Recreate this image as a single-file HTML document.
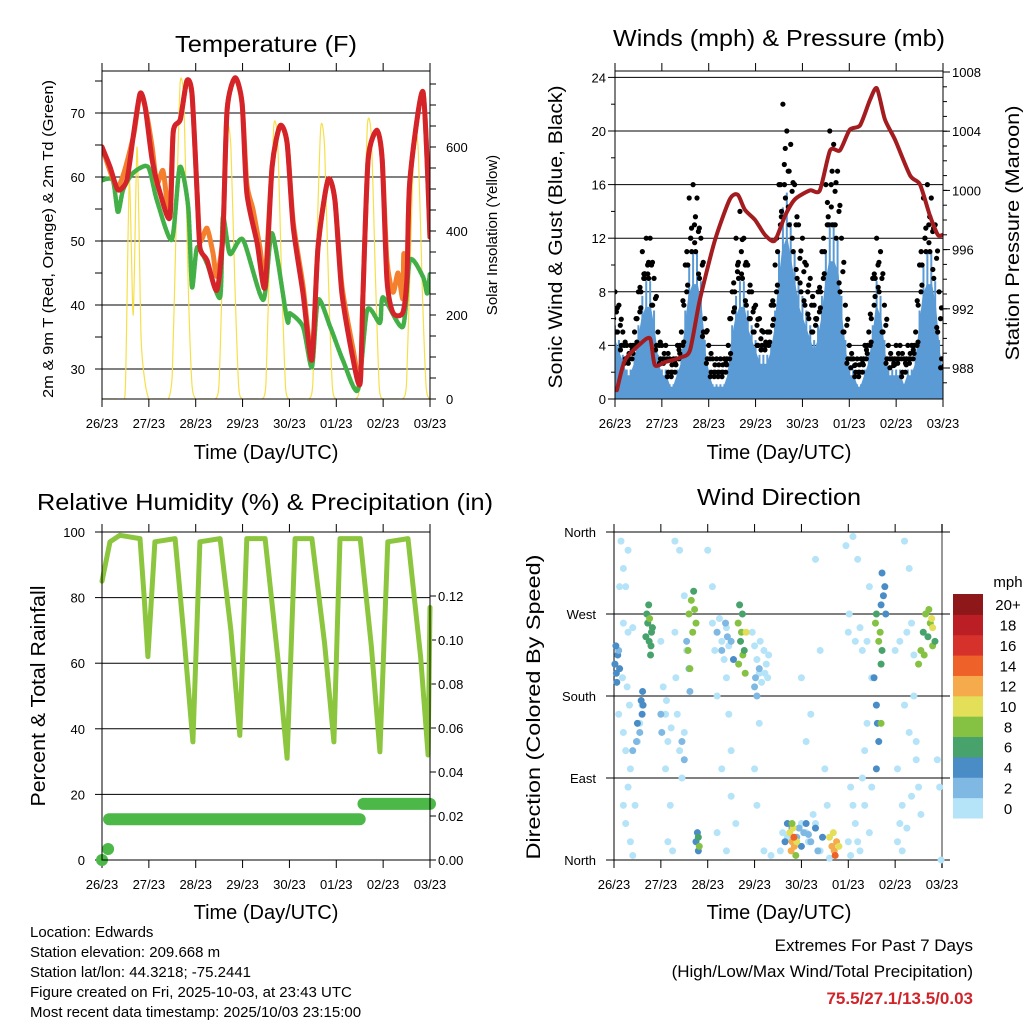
<!DOCTYPE html>
<html><head><meta charset="utf-8"><style>
html,body{margin:0;padding:0;background:#fff;}
svg{display:block;font-family:"Liberation Sans",Arial,sans-serif;}
</style></head><body>
<svg id="chart" width="1024" height="1024" viewBox="0 0 1024 1024" xmlns="http://www.w3.org/2000/svg">
<defs>
<clipPath id="clipTemp"><rect x="102" y="71" width="328" height="328"/></clipPath>
<clipPath id="clipWind"><rect x="615" y="71" width="328" height="328"/></clipPath>
</defs>
<rect x="0" y="0" width="1024" height="1024" fill="#fff"/>
<g id="pTemp"></g>
<g id="pWind"></g>
<g id="pRH"></g>
<g id="pDir"></g>
<g fill="#000">
<text x="266" y="52" font-size="23" text-anchor="middle" textLength="182" lengthAdjust="spacingAndGlyphs">Temperature (F)</text>
<text x="779" y="46" font-size="23" text-anchor="middle" textLength="332" lengthAdjust="spacingAndGlyphs">Winds (mph) &amp; Pressure (mb)</text>
<text x="265" y="510" font-size="23" text-anchor="middle" textLength="456" lengthAdjust="spacingAndGlyphs">Relative Humidity (%) &amp; Precipitation (in)</text>
<text x="779" y="505" font-size="23" text-anchor="middle" textLength="164" lengthAdjust="spacingAndGlyphs">Wind Direction</text>
<text x="266" y="459" font-size="20" text-anchor="middle">Time (Day/UTC)</text>
<text x="779" y="459" font-size="20" text-anchor="middle">Time (Day/UTC)</text>
<text x="266" y="919" font-size="20" text-anchor="middle">Time (Day/UTC)</text>
<text x="779" y="919" font-size="20" text-anchor="middle">Time (Day/UTC)</text>
<text transform="translate(53,239) rotate(-90)" font-size="15" text-anchor="middle" textLength="318" lengthAdjust="spacingAndGlyphs">2m &amp; 9m T (Red, Orange) &amp; 2m Td (Green)</text>
<text transform="translate(497,235) rotate(-90)" font-size="15" text-anchor="middle">Solar Insolation (Yellow)</text>
<text transform="translate(562,237) rotate(-90)" font-size="19" text-anchor="middle" textLength="303" lengthAdjust="spacingAndGlyphs">Sonic Wind &amp; Gust (Blue, Black)</text>
<text transform="translate(1019,233) rotate(-90)" font-size="19" text-anchor="middle" textLength="255" lengthAdjust="spacingAndGlyphs">Station Pressure (Maroon)</text>
<text transform="translate(45,696) rotate(-90)" font-size="20" text-anchor="middle" textLength="221" lengthAdjust="spacingAndGlyphs">Percent &amp; Total Rainfall</text>
<text transform="translate(540,707) rotate(-90)" font-size="19" text-anchor="middle" textLength="305" lengthAdjust="spacingAndGlyphs">Direction (Colored By Speed)</text>
</g>
<g font-size="15" fill="#000">
<text x="30" y="937">Location: Edwards</text>
<text x="30" y="957">Station elevation: 209.668 m</text>
<text x="30" y="977">Station lat/lon: 44.3218; -75.2441</text>
<text x="30" y="997">Figure created on Fri, 2025-10-03, at 23:43 UTC</text>
<text x="30" y="1017">Most recent data timestamp: 2025/10/03 23:15:00</text>
</g>
<g text-anchor="end">
<text x="973" y="951" font-size="17">Extremes For Past 7 Days</text>
<text x="973" y="977" font-size="17">(High/Low/Max Wind/Total Precipitation)</text>
<text x="973" y="1004" font-size="17" font-weight="bold" fill="#d0242b">75.5/27.1/13.5/0.03</text>
</g>
</svg>
<script>
// ---------- data ----------
const dayLabels=['26/23','27/23','28/23','29/23','30/23','01/23','02/23','03/23'];
const tempTicks=[30,40,50,60,70];
const solarTicks=[0,200,400,600];
const tRedTime=[0,.17,.34,.53,.66,.81,.92,1.07,1.24,1.45,1.52,1.67,1.81,1.92,2.03,2.09,2.24,2.45,2.58,2.67,2.84,2.99,3.09,3.31,3.48,3.63,3.8,3.95,4.08,4.29,4.48,4.61,4.82,4.97,5.12,5.36,5.51,5.57,5.68,5.87,5.98,6.08,6.21,6.42,6.51,6.57,6.85,7.0];
const tRedVal=[64.7,61.6,58,59.5,66,73,71,62.7,57.5,53.7,67,69,75,73,57.5,49,47,42.3,51,70.5,75.5,71.5,57.5,49.7,42.8,61.6,68,65.3,52.2,41.8,31.4,49,59.5,56.4,41.8,31.4,27.8,41.8,62.7,67.3,62.7,44,38.8,38.8,44.4,59.5,73.3,50.6];
const tOrgTime=[0,.34,.66,.81,.92,1.07,1.17,1.30,1.39,1.45,1.52,1.67,1.81,1.92,2.03,2.09,2.24,2.37,2.45,2.58,2.67,2.84,2.99,3.09,3.22,3.37,3.48,3.63,3.8,3.95,4.08,4.29,4.48,4.61,4.82,4.97,5.12,5.36,5.51,5.57,5.68,5.87,5.98,6.08,6.21,6.32,6.42,6.44,6.51,6.57,6.85,7.0];
const tOrgVal=[64.7,58.5,66,73,71,64.7,59,61,56,54,67,69,75,73,57.5,50,52,48,44.5,51,70.5,75.5,71.5,59,55,49,44,61.6,68,65.3,53,43,32,49,59.5,56.4,43,33,28,41.8,62.7,67.3,62.7,47,42,45,41,48,45,59.5,73.3,50.6];
const tdTime=[0,.23,.34,.45,.66,.98,1.17,1.49,1.66,1.84,1.92,2.03,2.24,2.52,2.58,2.73,3.01,3.44,3.63,3.95,4.01,4.29,4.48,4.61,4.87,5.14,5.46,5.66,5.93,6.0,6.42,6.57,6.85,6.94,7.0];
const tdVal=[59.5,59.5,54.5,58,60.6,61.6,56.4,50.2,61.6,55.3,42.8,49,46.5,41.2,53.7,48,50.2,40.8,51.2,37.7,38.7,36.6,30.3,40.8,36.6,31.4,26.7,39.2,37.2,41.2,36.6,47,44.4,41.8,45];
// solar every 2 hours (12 per day)
const solar=[0,0,0,0,0,0,30,520,200,600,150,40,
0,0,0,0,0,0,60,420,750,700,300,40,
0,0,0,0,0,0,40,360,640,600,280,30,
0,0,0,0,0,0,40,370,650,610,290,30,
0,0,0,0,0,0,40,360,645,600,280,30,
0,0,0,0,0,0,40,370,655,620,300,30,
0,0,0,0,0,0,40,350,630,590,270,30,0];
const windTicks=[0,4,8,12,16,20,24];
const pressTicks=[988,992,996,1000,1004,1008];
const windHi=[5,4,3,2,2,3,5,7,8,8,6,3,
2,2,1,1,2,3,6,9,10,10,8,4,
2,1,1,1,1,2,5,7,8,8,6,5,
4,3,3,3,4,6,10,13,14,12,10,8,
7,6,5,4,5,7,10,12,12,11,7,4,
2,2,1,1,2,3,5,8,7,4,2,2,
2,2,1,2,2,3,6,9,10,10,8,4,2];
const gust=[8,7,5,4,4,5,8,11,12,12,9,5,
4,4,3,3,4,5,10,15,16,15,12,6,
4,3,3,3,3,4,8,12,14,12,10,8,
7,6,5,5,7,10,16,22,20,19,16,13,
12,10,9,7,8,11,16,20,19,17,12,7,
4,3,3,3,4,5,9,12,11,7,4,3,
4,4,3,4,4,5,10,15,16,15,13,8,3];
const pressTime=[.04,.21,.53,.75,.85,1.07,1.39,1.6,1.81,2.13,2.45,2.62,2.77,2.99,3.2,3.41,3.63,3.84,4.16,4.37,4.59,4.8,5.01,5.23,5.44,5.59,5.76,5.98,6.3,6.51,6.72,6.89,7.0];
const pressVal=[986.5,988.5,989.6,990,988.2,988.4,988.7,989.2,992.6,996.6,999.4,999.7,998.7,998,997,996.6,998.3,999.4,1000,1000,1002.7,1002.7,1004.1,1004.4,1006.1,1006.9,1004.8,1003.4,1001,1000.4,998.3,997,997];
const rhTicks=[0,20,40,60,80,100];
const precipTicks=[0,0.02,0.04,0.06,0.08,0.10,0.12];
const rhTime=[0,.17,.38,.81,.9,.98,1.13,1.56,1.75,1.94,2.09,2.52,2.75,2.94,3.09,3.48,3.75,3.95,4.12,4.48,4.75,4.95,5.08,5.51,5.75,5.93,6.1,6.53,6.8,6.96,7.0];
const rhVal=[85,97,99,98,80,62,97,98,68,36,97,98,70,38,98,98,62,31,98,98,66,36,98,98,65,33,97,98,62,32,77];
const precipTime=[0,0.13,0.15,5.5,5.58,7.0];
const precipVal=[0,0.005,0.0185,0.0185,0.0255,0.0255];
const dirNames=['North','East','South','West','North'];
const dirTicks=[0,90,180,270,360];
const speedLabels=['0','2','4','6','8','10','12','14','16','18','20+'];
const dirObs=[
[0.15,350,1],[0.2,320,0],[0.25,300,1],[0.3,340,0],[0.2,260,1],[0.3,250,0],[0.4,255,1],[0.1,160,1],[0.2,140,0],[0.25,120,1],[0.35,100,0],[0.3,80,1],[0.2,60,0],[0.25,40,1],[0.35,20,0],[0.4,5,1],[0.45,60,0],[0.5,130,1],[0.6,170,0],[0.55,150,1],[0.12,300,1],[0.18,200,1],[0.28,190,0],[0.33,170,1],
[1.0,240,1],[1.05,190,0],[1.1,160,1],[1.15,130,0],[1.1,100,1],[1.2,60,0],[1.15,20,1],[1.25,10,0],[1.3,250,1],[1.35,160,0],[1.4,120,1],[1.45,90,0],[1.3,350,1],[1.4,340,0],[1.5,290,1],[1.55,230,0],[1.5,140,1],[1.12,175,1],[1.22,145,1],[1.32,200,0],
[2.0,340,1],[2.1,300,0],[2.1,260,1],[2.2,250,0],[2.3,240,1],[2.35,220,0],[2.4,200,1],[2.2,180,0],[2.45,160,1],[2.5,120,0],[2.3,100,1],[2.5,70,0],[2.2,30,1],[2.4,10,0],[2.6,40,1],[2.25,265,1],[2.4,255,0],[2.45,235,1],[2.15,230,1],
[2.95,250,1],[3.0,235,0],[3.05,220,1],[3.1,205,0],[3.15,195,1],[3.2,230,0],[3.25,215,1],[3.3,225,0],[3.1,150,1],[3.0,100,0],[3.05,60,1],[3.2,10,0],[3.35,5,1],[3.12,240,1],[3.22,205,1],[3.28,200,0],
[3.6,30,1],[3.7,25,0],[4.0,40,1],[4.1,30,0],[4.15,20,1],[4.4,10,0],[4.6,2,1],[3.55,10,1],
[4.0,200,1],[4.1,130,0],[4.2,160,1],[4.3,330,0],[4.4,230,1],[4.5,100,0],[4.55,60,1],[4.25,50,1],[4.3,40,0],
[5.0,250,1],[5.05,80,0],[5.1,60,1],[5.15,40,0],[5.2,20,1],[5.25,10,0],[5.3,90,1],[5.35,120,0],[5.4,240,1],[5.45,300,0],[5.5,200,1],[5.1,355,0],[5.2,330,1],[5.3,230,0],[5.4,150,1],[5.0,20,1],[5.05,5,0],[5.15,240,1],[5.25,255,0],[5.35,60,1],[5.45,30,0],[5.5,80,1],[4.95,345,1],[5.02,270,0],
[6.0,230,1],[6.05,100,0],[6.1,40,1],[6.15,10,0],[6.2,350,1],[6.3,320,0],[6.35,260,1],[6.4,180,0],[6.45,130,1],[6.5,80,0],[6.55,50,1],[6.2,170,0],[6.3,140,1],[6.35,70,0],[6.1,240,1],[6.9,110,0],[6.95,80,1],[6.98,0,0],[6.25,250,1],[6.4,225,0],[6.45,110,1],[6.05,20,0],[6.15,60,1],[6.25,35,0],
[0.02,215,4],[0.05,205,4],[0.08,225,4],[0.1,230,3],[0.12,210,4],[0.06,195,4],[0.04,235,4],
[0.5,150,4],[0.55,140,3],[0.6,160,4],[0.62,170,4],[0.58,175,4],[0.48,130,3],[0.4,120,3],[0.61,185,4],
[1.55,240,3],[1.6,210,3],[1.62,185,3],[1.45,130,3],[1.5,110,3],[1.0,160,3],[1.02,140,3],
[2.2,250,3],[2.3,230,3],[2.5,240,3],[2.55,220,4],[1.75,20,4],[1.8,10,4],[1.78,30,4],[2.38,260,3],[2.42,245,3],
[3.0,190,3],[3.05,180,3],[3.1,210,3],[3.02,200,3],
[3.65,20,4],[3.7,40,4],[3.8,35,4],[3.9,25,3],[4.0,15,4],[4.05,30,3],[4.1,40,4],[4.2,20,3],[4.3,35,4],[4.35,10,3],[4.45,25,4],[3.95,35,3],[4.15,28,3],
[5.55,200,4],[5.6,170,4],[5.62,150,4],[5.65,130,4],[5.7,280,4],[5.75,290,4],[5.8,270,4],[5.78,300,4],[5.6,100,4],[5.72,315,4],
[0.7,270,6],[0.72,260,7],[0.75,240,6],[0.78,225,7],[0.8,250,6],[0.68,245,6],[0.74,280,7],[0.76,265,8],[0.79,235,6],[0.82,255,7],
[1.6,270,8],[1.65,285,8],[1.7,295,6],[1.75,260,8],[1.68,250,8],[1.72,275,8],[1.58,230,8],[1.62,210,8],
[2.65,260,8],[2.7,240,6],[2.75,225,8],[2.8,205,8],[2.68,280,7],[2.72,250,8],[2.78,230,6],[2.66,215,8],[2.74,270,6],
[1.8,25,6],[1.82,15,8],
[5.6,270,6],[5.65,240,8],[5.7,215,6],[5.68,250,8],[5.72,230,6],[5.58,260,8],[5.7,150,8],
[6.5,215,8],[6.55,230,8],[6.6,250,6],[6.65,270,8],[6.7,245,6],[6.75,260,8],[6.8,235,8],[6.62,225,8],[6.72,275,8],[6.85,240,6],
[3.75,30,10],[3.8,20,12],[3.85,15,12],[3.78,10,13],[3.82,35,10],[3.9,20,11],[3.88,5,9],[3.8,40,9],[3.84,25,14],
[4.6,25,10],[4.65,15,12],[4.7,10,13],[4.75,20,12],[4.68,30,10],[4.72,5,14],[4.8,15,11],
[2.82,250,10],[6.78,265,10],[6.8,255,10]
];
// ---------- helpers ----------
const NS='http://www.w3.org/2000/svg';
function mk(tag,name,attrs,parent){
  const el=document.createElementNS(NS,tag);
  for(const k in attrs) el.setAttribute(k,attrs[k]);
  
  
  parent.appendChild(el);
  return el;
}
function txt(name,s,x,y,anchor,size,parent){
  const t=mk('text',name,{x:x,y:y,'text-anchor':anchor,'font-size':size,fill:'#000'},parent);
  t.textContent=s;
  return t;
}
function ln(name,x1,y1,x2,y2,parent,color,w){
  return mk('line',name,{x1:x1,y1:y1,x2:x2,y2:y2,stroke:color||'#000','stroke-width':w||1},parent);
}
function poly(name,xs,ys,parent,color,w,extra){
  const a={points:xs.map((x,i)=>x.toFixed(1)+','+ys[i].toFixed(1)).join(' '),fill:'none',stroke:color,'stroke-width':w,'stroke-linejoin':'round','stroke-linecap':'round'};
  if(extra) for(const k in extra) a[k]=extra[k];
  return mk('polyline',name,a,parent);
}
function smooth(name,xs,ys,parent,color,w,extra){
  let d='M'+xs[0].toFixed(1)+','+ys[0].toFixed(1);
  const n=xs.length,t=0.12;
  for(let i=0;i<n-1;i++){
    const x0=xs[Math.max(0,i-1)],y0=ys[Math.max(0,i-1)],x1=xs[i],y1=ys[i],x2=xs[i+1],y2=ys[i+1],x3=xs[Math.min(n-1,i+2)],y3=ys[Math.min(n-1,i+2)];
    const c1x=x1+(x2-x0)*t,c1y=y1+(y2-y0)*t,c2x=x2-(x3-x1)*t,c2y=y2-(y3-y1)*t;
    d+=' C'+c1x.toFixed(1)+','+c1y.toFixed(1)+' '+c2x.toFixed(1)+','+c2y.toFixed(1)+' '+x2.toFixed(1)+','+y2.toFixed(1);
  }
  const a={d:d,fill:'none',stroke:color,'stroke-width':w,'stroke-linejoin':'round','stroke-linecap':'round'};
  if(extra) for(const k in extra) a[k]=extra[k];
  return mk('path',name,a,parent);
}
const DAYW=328/7;
// ---------- Temperature ----------
(function(){
  const g=document.getElementById('pTemp');
  const x=d=>102+d*DAYW, y=v=>113+(70-v)*6.4, ys=v=>399-v*0.42;
  tempTicks.forEach(v=>{ln('temp-gridline',102,y(v),430,y(v),g);txt('temp-tick-label',String(v),85,y(v)+5,'end',13,g);});
  for(let v=30;v<=75;v+=5) ln('temp-tick',95,y(v),102,y(v),g);
  for(let v=0;v<=750;v+=50) ln('solar-tick',430,ys(v),436,ys(v),g);
  solarTicks.forEach(v=>txt('solar-tick-label',String(v),446,ys(v)+5,'start',13,g));
  dayLabels.forEach((s,i)=>{ln('temp-day-tick',x(i),399,x(i),407,g);ln('temp-day-tick-top',x(i),63,x(i),71,g);txt('temp-day-label',s,x(i),428,'middle',13,g);});
  const cg=mk('g','temp-series',{'clip-path':'url(#clipTemp)'},g);
  const sx=solar.map((v,i)=>x(i/12)), sy=solar.map(v=>ys(v));
  smooth('solar-line',sx,sy,cg,'#f7df4a',1.2);
  smooth('dewpoint-line',tdTime.map(x),tdVal.map(y),cg,'#43b047',4.5,{'stroke-dasharray':'3 1.5'});
  smooth('temp-9m-line',tOrgTime.map(x),tOrgVal.map(y),cg,'#f47f2c',5);
  smooth('temp-2m-line',tRedTime.map(x),tRedVal.map(y),cg,'#d4242a',5);
  mk('rect','temp-plot-frame',{x:102,y:71,width:328,height:328,fill:'none',stroke:'#000','stroke-width':1},g);
})();
// ---------- Wind ----------
(function(){
  const g=document.getElementById('pWind');
  const x=d=>615+d*DAYW, y=v=>399-v*13.4, yp=p=>368-(p-988)*14.8;
  windTicks.forEach(v=>{if(v>0)ln('wind-gridline',615,y(v),943,y(v),g);ln('wind-tick',608,y(v),615,y(v),g);txt('wind-tick-label',String(v),606,y(v)+5,'end',13,g);});
  for(let v=2;v<24;v+=4) ln('wind-minor-tick',611,y(v),615,y(v),g);
  for(let p=987;p<=1008;p++) ln('pressure-minor-tick',943,yp(p),947,yp(p),g);
  pressTicks.forEach(p=>{ln('pressure-tick',943,yp(p),950,yp(p),g);txt('pressure-tick-label',String(p),952,yp(p)+5,'start',13,g);});
  dayLabels.forEach((s,i)=>{ln('wind-day-tick',x(i),399,x(i),407,g);ln('wind-day-tick-top',x(i),63,x(i),71,g);txt('wind-day-label',s,x(i),428,'middle',13,g);});
  const cg=mk('g','wind-series',{'clip-path':'url(#clipWind)'},g);
  const xs=windHi.map((v,i)=>x(i/12));
  const area='M'+x(0)+','+y(0)+' '+windHi.map((v,i)=>'L'+xs[i].toFixed(1)+','+y(v*0.85).toFixed(1)).join(' ')+' L'+x((windHi.length-1)/12)+','+y(0)+'Z';
  mk('path','wind-speed-area',{d:area,fill:'#5b9bd5',stroke:'#5b9bd5','stroke-width':2,'stroke-linejoin':'round'},cg);
  windHi.forEach((v,i)=>{
    ln('wind-speed-bar',xs[i],y(0),xs[i],y(v*1.1),cg,'#5b9bd5',2);
  });
  gust.forEach((v,i)=>{
    const lo=windHi[i];
    [[0,v],[0.03,(v+lo)/2],[-0.03,lo+1],[0.05,v*0.85],[-0.05,(v+lo*2)/3]].forEach(p=>{
      const c=mk('circle','gust-point',{cx:x(i/12+p[0]),cy:y(p[1]),r:2.6,fill:'#000'},cg);
    });
  });
  smooth('pressure-line',pressTime.map(x),pressVal.map(yp),cg,'#a31c1f',4);
  mk('rect','wind-plot-frame',{x:615,y:71,width:328,height:328,fill:'none',stroke:'#000','stroke-width':1},g);
})();
// ---------- RH ----------
(function(){
  const g=document.getElementById('pRH');
  const x=d=>102+d*DAYW, y=v=>860-v*3.28, yq=v=>860-v*2200;
  rhTicks.forEach(v=>{if(v>0&&v<100)ln('rh-gridline',102,y(v),430,y(v),g);ln('rh-tick',95,y(v),102,y(v),g);txt('rh-tick-label',String(v),85,y(v)+5,'end',13,g);});
  precipTicks.forEach(v=>{ln('precip-tick',430,yq(v),436,yq(v),g);txt('precip-tick-label',v.toFixed(2),438,yq(v)+5,'start',13,g);});
  dayLabels.forEach((s,i)=>{ln('rh-day-tick',x(i),860,x(i),868,g);ln('rh-day-tick-top',x(i),524,x(i),532,g);txt('rh-day-label',s,x(i),889,'middle',13,g);});
  poly('humidity-line',rhTime.map(x),rhVal.map(y),g,'#8cc63f',5);
  precipVal.forEach((v,i)=>{
    if(i<precipVal.length-1&&precipVal[i+1]===v){
      ln('precip-line',x(precipTime[i]),yq(v),x(precipTime[i+1]),yq(v),g,'#4cb848',12).setAttribute('stroke-linecap','round');
    } else if(i===0||precipVal[i-1]!==v){
      mk('circle','precip-point',{cx:x(precipTime[i]),cy:yq(v),r:6,fill:'#4cb848'},g);
    }
  });
  mk('rect','rh-plot-frame',{x:102,y:532,width:328,height:328,fill:'none',stroke:'#000','stroke-width':1},g);
})();
// ---------- Wind Direction ----------
(function(){
  const g=document.getElementById('pDir');
  const x=d=>614+d*DAYW, y=v=>860-v*328/360;
  const bins=['#b5e3f8','#7fb9e3','#4a8cc6','#48a26b','#85c142','#e3df59','#f5ab4b','#ee6128','#d7312b','#bb1e25','#8e1719'];
  ln('dir-left-axis',614,524,614,860,g);
  ln('dir-right-axis',942,524,942,868,g,'#777',1.5);
  dirTicks.forEach((v,i)=>{ln('dir-gridline',606,y(v),950,y(v),g);txt('dir-tick-label',dirNames[i],596,y(v)+5,'end',13,g);});
  dayLabels.forEach((s,i)=>{ln('dir-day-tick',x(i),860,x(i),868,g);ln('dir-day-tick-top',x(i),524,x(i),532,g);txt('dir-day-label',s,x(i),889,'middle',13,g);});
  dirObs.forEach(o=>{
    const b=Math.min(10,Math.floor(o[2]/2));
    mk('circle','direction-point',{cx:x(o[0]),cy:y(o[1]),r:3.5,fill:bins[b]},g);
  });
  const h=224/11;
  bins.forEach((c,i)=>{
    const top=818-(i+1)*h;
    mk('rect','colorbar-bin',{x:953,y:top,width:30,height:h+0.5,fill:c},g);
    txt('colorbar-label',speedLabels[i],1008,top+h/2+6,'middle',15,g);
  });
  txt('colorbar-unit','mph',1008,587,'middle',15,g);
})();
</script>
</body></html>
